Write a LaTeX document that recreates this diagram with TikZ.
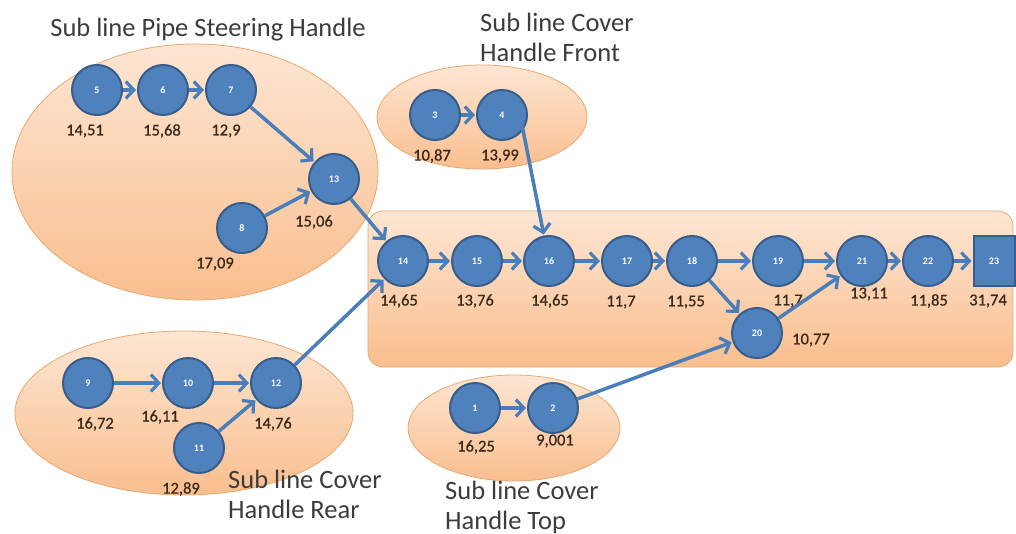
\documentclass[tikz,border=0pt]{standalone}
\usepackage{fontspec}
\setmainfont{Carlito}
\newfontfamily\timefont[FakeBold=0.7]{Carlito}
\usetikzlibrary{arrows.meta,shapes.geometric}
\definecolor{nodefill}{HTML}{4F81BD}
\definecolor{nodeline}{HTML}{385D8A}
\definecolor{arrowblue}{HTML}{4A7EBB}
\definecolor{peachtop}{HTML}{FDE6D3}
\definecolor{peachbot}{HTML}{F9BE8E}
\definecolor{peachline}{HTML}{E8A870}
\definecolor{numtext}{HTML}{3A2A1A}
\definecolor{titletext}{HTML}{3C3C3C}
\tikzset{
  station/.style={circle,minimum size=50pt,inner sep=0pt,fill=nodefill,draw=nodeline,line width=2pt,
    text=white,font=\bfseries\fontsize{10}{10}\selectfont},
  endstation/.style={rectangle,minimum width=41pt,minimum height=50pt,inner sep=0pt,fill=nodefill,draw=nodeline,line width=2pt,
    text=white,font=\bfseries\fontsize{10}{10}\selectfont},
  flow/.style={draw=arrowblue,line width=3.5pt,-{Straight Barb[length=8pt,width=17pt,line width=3.2pt]},shorten >=1pt},
  timelabel/.style={text=numtext,font=\timefont\fontsize{16.5}{16.5}\selectfont,inner sep=0pt},
  zone/.style={ellipse,top color=peachtop,bottom color=peachbot,draw=peachline,line width=0.8pt,inner sep=0pt},
  title/.style={text=titletext,font=\fontsize{26.5}{30}\selectfont,align=left,inner sep=0pt}
}
\begin{document}
\begin{tikzpicture}[x=1pt,y=-1pt]
\useasboundingbox (0,0) rectangle (1016,534);
\fill[white] (0,0) rectangle (1016,534);

% sub-line zones
\node[zone,minimum width=366pt,minimum height=256pt] (zpipe) at (195,172) {};
\node[zone,minimum width=210pt,minimum height=104pt] (zfront) at (482,117) {};
\node[zone,minimum width=338pt,minimum height=164pt] (zrear) at (184,413) {};
\node[zone,minimum width=212pt,minimum height=106pt] (ztop) at (514,428) {};
% main line panel
\shade[top color=peachtop,bottom color=peachbot,draw=peachline,line width=0.8pt,rounded corners=15pt]
  (368,211) rectangle (1013,367);

% zone titles
\node[title] (tpipe) at (208,30) {Sub line Pipe Steering Handle};
\node[title,anchor=west] (tfront) at (480,37) {Sub line Cover\\Handle Front};
\node[title,anchor=west] (trear) at (228,494) {Sub line Cover\\Handle Rear};
\node[title,anchor=west] (ttop) at (445,507) {Sub line Cover\\Handle Top};

% stations
\node[station] (n5) at (97,90) {5};
\node[station] (n6) at (163,90) {6};
\node[station] (n7) at (231,90) {7};
\node[station] (n13) at (334,179) {13};
\node[station] (n8) at (242,228) {8};
\node[station] (n3) at (435,115) {3};
\node[station] (n4) at (502,115) {4};
\node[station] (n9) at (88,383) {9};
\node[station] (n10) at (188,383) {10};
\node[station] (n12) at (276,383) {12};
\node[station] (n11) at (199,448) {11};
\node[station] (n1) at (475,408) {1};
\node[station] (n2) at (553,408) {2};
\node[station] (n14) at (403,261) {14};
\node[station] (n15) at (477,261) {15};
\node[station] (n16) at (549,261) {16};
\node[station] (n17) at (627,261) {17};
\node[station] (n18) at (692,261) {18};
\node[station] (n19) at (778,261) {19};
\node[station] (n20) at (757,333) {20};
\node[station] (n21) at (862,261) {21};
\node[station] (n22) at (928,261) {22};
\node[endstation] (n23) at (994,261) {23};

% cycle times
\node[timelabel] (t5) at (85,131) {14,51};
\node[timelabel] (t6) at (162,131) {15,68};
\node[timelabel] (t7) at (226,131) {12,9};
\node[timelabel] (t13) at (314,222) {15,06};
\node[timelabel] (t8) at (215,264) {17,09};
\node[timelabel] (t3) at (432,156) {10,87};
\node[timelabel] (t4) at (500,156) {13,99};
\node[timelabel] (t9) at (95,424) {16,72};
\node[timelabel] (t10) at (160,417) {16,11};
\node[timelabel] (t12) at (273,424) {14,76};
\node[timelabel] (t11) at (181,489) {12,89};
\node[timelabel] (t1) at (476,447) {16,25};
\node[timelabel] (t2) at (555,441) {9,001};
\node[timelabel] (t14) at (399,301) {14,65};
\node[timelabel] (t15) at (475,301) {13,76};
\node[timelabel] (t16) at (550,301) {14,65};
\node[timelabel] (t17) at (621,302) {11,7};
\node[timelabel] (t18) at (686,302) {11,55};
\node[timelabel] (t19) at (788,301) {11,7};
\node[timelabel] (t21) at (869,294) {13,11};
\node[timelabel] (t22) at (929,301) {11,85};
\node[timelabel] (t23) at (988,301) {31,74};
\node[timelabel] (t20) at (811,340) {10,77};

% precedence
\draw[flow] (n5) -- (n6);
\draw[flow] (n6) -- (n7);
\draw[flow] (n7) -- (n13);
\draw[flow] (n8) -- (n13);
\draw[flow] (n13) -- (n14);
\draw[flow] (n3) -- (n4);
\draw[flow] (n4.east) ++(-6,10) coordinate (c4) (c4) -- (n16);
\draw[flow] (n9) -- (n10);
\draw[flow] (n10) -- (n12);
\draw[flow] (n11) -- (n12);
\draw[flow] (n12) -- (n14);
\draw[flow] (n1) -- (n2);
\draw[flow] (n2) -- (n20);
\draw[flow] (n14) -- (n15);
\draw[flow] (n15) -- (n16);
\draw[flow] (n16) -- (n17);
\draw[flow] (n17) -- (n18);
\draw[flow] (n18) -- (n19);
\draw[flow] (n18) -- (n20);
\draw[flow] (n19) -- (n21);
\draw[flow] (n20) -- (n21);
\draw[flow] (n21) -- (n22);
\draw[flow] (n22) -- (n23);
\end{tikzpicture}
\end{document}
